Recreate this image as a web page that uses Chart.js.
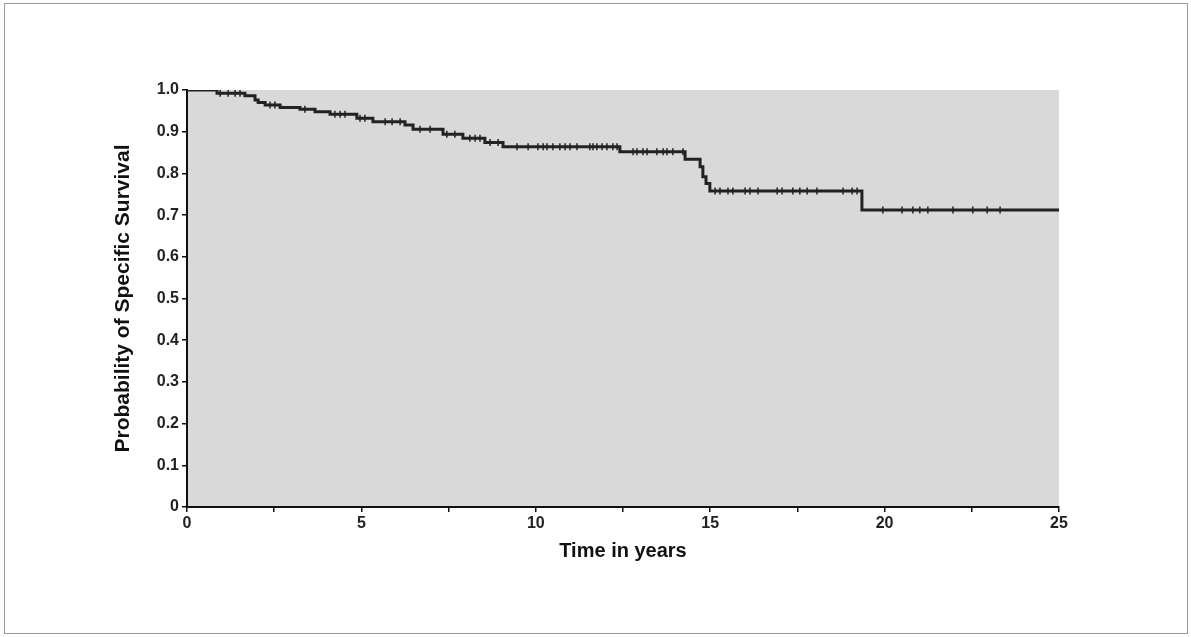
<!DOCTYPE html>
<html lang="en">
<head>
  <meta charset="UTF-8">
  <title>Probability of Specific Survival</title>
  <script src="https://cdn.jsdelivr.net/npm/chart.js"></script>
  <style>
    body { margin: 0; background: #fff; }
    .wrap { position: relative; width: 1191px; height: 637px; }
    .frame { position: absolute; left: 4px; top: 3px; width: 1182px; height: 629px; border: 1px solid #9a9a9a; pointer-events: none; }
    canvas { position: absolute; left: 0; top: 0; }
  </style>
</head>
<body>
  <div class="wrap">
    <canvas id="kmChart" width="1191" height="637"></canvas>
    <div class="frame"></div>
  </div>
  <script>
    // step curve: time in years and survival after the drop at that time
    const stepTimes = [0, 0.86, 1.66, 1.95, 2.04, 2.24, 2.67, 3.24, 3.67, 4.10, 4.87, 5.33, 6.25, 6.48, 7.34, 7.91, 8.54, 9.06, 12.41, 14.28, 14.71, 14.79, 14.88, 14.99, 19.35, 25];
    const stepSurv  = [1.0, 0.992, 0.986, 0.976, 0.970, 0.964, 0.958, 0.954, 0.948, 0.942, 0.932, 0.924, 0.916, 0.906, 0.894, 0.884, 0.874, 0.864, 0.852, 0.834, 0.816, 0.792, 0.776, 0.758, 0.712, 0.712];

    // censoring marks
    const censorTimes = [0.95, 1.18, 1.38, 1.52, 2.38, 2.52, 3.38, 4.24, 4.39, 4.53, 4.96, 5.10, 5.68, 5.88, 6.11, 6.68, 6.97, 7.45, 7.68, 8.11, 8.26, 8.40, 8.69, 8.92,
      9.46, 9.78, 10.06, 10.21, 10.32, 10.49, 10.69, 10.84, 10.98, 11.18, 11.55, 11.64, 11.75, 11.90, 12.04, 12.21, 12.33,
      12.79, 12.90, 13.07, 13.19, 13.47, 13.65, 13.76, 13.93, 14.22,
      15.14, 15.28, 15.51, 15.65, 16.00, 16.14, 16.37, 16.92, 17.06, 17.37, 17.57, 17.78, 18.06, 18.81, 19.07, 19.21,
      19.95, 20.50, 20.81, 21.01, 21.24, 21.96, 22.53, 22.94, 23.31];
    const censorSurv = [0.992, 0.992, 0.992, 0.992, 0.964, 0.964, 0.954, 0.942, 0.942, 0.942, 0.932, 0.932, 0.924, 0.924, 0.924, 0.906, 0.906, 0.894, 0.894, 0.884, 0.884, 0.884, 0.874, 0.874,
      0.864, 0.864, 0.864, 0.864, 0.864, 0.864, 0.864, 0.864, 0.864, 0.864, 0.864, 0.864, 0.864, 0.864, 0.864, 0.864, 0.864,
      0.852, 0.852, 0.852, 0.852, 0.852, 0.852, 0.852, 0.852, 0.852,
      0.758, 0.758, 0.758, 0.758, 0.758, 0.758, 0.758, 0.758, 0.758, 0.758, 0.758, 0.758, 0.758, 0.758, 0.758, 0.758,
      0.712, 0.712, 0.712, 0.712, 0.712, 0.712, 0.712, 0.712, 0.712];

    const xTickLabels = [0, 5, 10, 15, 20, 25];
    const yTickLabels = ['0', '0.1', '0.2', '0.3', '0.4', '0.5', '0.6', '0.7', '0.8', '0.9', '1.0'];

    const curve = stepTimes.map((t, i) => ({ x: t, y: stepSurv[i] }));
    const censored = censorTimes.map((t, i) => ({ x: t, y: censorSurv[i] }));

    const plotBg = {
      id: 'plotBg',
      beforeDraw(chart) {
        const { ctx, chartArea: a } = chart;
        ctx.save();
        ctx.fillStyle = '#d9d9d9';
        ctx.fillRect(a.left, a.top, a.right - a.left, a.bottom - a.top);
        ctx.restore();
      }
    };

    const tickFont = { family: "'Liberation Sans', Arial, sans-serif", size: 16, weight: 'bold' };
    const titleFont = { family: "'Liberation Sans', Arial, sans-serif", size: 20, weight: 'bold' };

    new Chart(document.getElementById('kmChart'), {
      type: 'line',
      data: {
        datasets: [
          {
            data: curve,
            stepped: 'before',
            borderColor: '#222',
            borderWidth: 3,
            pointRadius: 0,
            fill: false
          },
          {
            type: 'scatter',
            data: censored,
            pointStyle: 'line',
            rotation: 90,
            pointRadius: 3.5,
            borderWidth: 1.5,
            borderColor: '#222'
          }
        ]
      },
      options: {
        responsive: false,
        animation: false,
        layout: { padding: { left: 107, top: 90, right: 132, bottom: 70 } },
        plugins: { legend: { display: false }, tooltip: { enabled: false } },
        scales: {
          x: {
            type: 'linear',
            min: 0,
            max: 25,
            afterFit(scale) { scale.height = 60; },
            border: { display: true, color: '#111', width: 2 },
            grid: { drawOnChartArea: false, drawTicks: true, tickLength: 5, tickColor: '#111', lineWidth: 1.5 },
            ticks: {
              stepSize: 2.5,
              color: '#222',
              font: tickFont,
              padding: 2,
              maxRotation: 0,
              callback: v => xTickLabels.includes(v) ? String(v) : ''
            },
            title: { display: true, text: 'Time in years', color: '#111', font: titleFont }
          },
          y: {
            min: 0,
            max: 1,
            afterFit(scale) { scale.width = 80; },
            border: { display: true, color: '#111', width: 2 },
            grid: { drawOnChartArea: false, drawTicks: true, tickLength: 5, tickColor: '#111', lineWidth: 1.5 },
            ticks: {
              stepSize: 0.05,
              color: '#222',
              font: tickFont,
              padding: 3,
              callback: v => {
                const k = Math.round(v * 20);
                return k % 2 === 0 ? yTickLabels[k / 2] : '';
              }
            },
            title: { display: true, text: 'Probability of Specific Survival', color: '#111', font: { ...titleFont, size: 21 } }
          }
        }
      },
      plugins: [plotBg]
    });
  </script>
</body>
</html>
